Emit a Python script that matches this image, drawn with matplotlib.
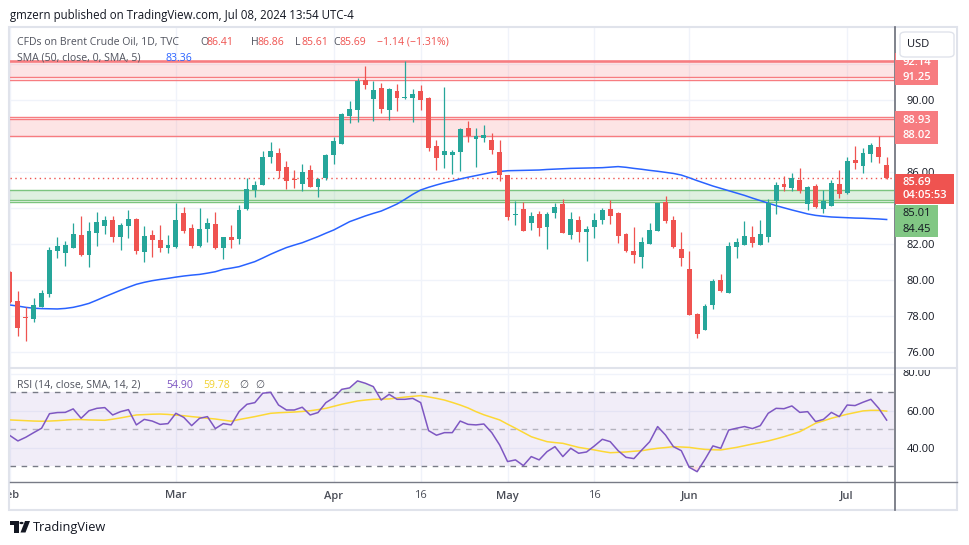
import matplotlib.pyplot as plt
from matplotlib.patches import Rectangle, FancyBboxPatch, Polygon, Circle
from matplotlib.lines import Line2D
from matplotlib.transforms import Bbox, TransformedBbox
import numpy as np
import pandas as pd

plt.rcParams['font.family'] = ['Open Sans', 'DejaVu Sans']

W, H = 970, 545

# daily candles, Brent CFD (TVC), Feb 1 - Jul 8 2024
opens = [80.45, 78.83, 77.95, 77.83, 78.52, 79.22, 81.63, 81.52, 81.80, 82.50,
         81.41, 82.63, 83.02, 83.33, 82.41, 83.02, 83.39, 81.57, 82.50, 82.22,
         81.80, 81.85, 83.72, 82.87, 81.91, 82.85, 83.11, 81.80, 82.39, 82.30,
         83.96, 85.00, 85.30, 86.85, 87.06, 86.28, 85.60, 85.33, 86.11, 85.19,
         85.65, 86.96, 87.57, 89.13, 89.46, 91.09, 90.07, 90.67, 89.46, 90.50,
         90.10, 90.13, 90.50, 90.11, 87.44, 86.96, 86.96, 87.13, 88.44, 87.85,
         87.91, 87.78, 87.11, 85.83, 83.60, 83.94, 83.19, 83.67, 82.96, 83.74,
         84.22, 82.52, 83.33, 82.69, 82.94, 83.35, 83.94, 83.72, 82.56, 81.61,
         81.30, 82.02, 82.74, 84.31, 83.33, 81.72, 80.61, 78.11, 77.24, 78.63,
         79.98, 79.30, 81.85, 81.96, 82.39, 81.96, 82.41, 84.41, 85.33, 85.13,
         85.56, 84.24, 85.22, 83.96, 84.13, 85.33, 84.85, 86.67, 86.35, 87.02,
         87.39, 86.41]
highs = [80.50, 79.39, 78.48, 78.98, 79.44, 81.83, 82.39, 82.17, 83.17, 83.56,
         83.24, 83.76, 83.57, 83.57, 83.15, 83.91, 83.44, 83.00, 82.78, 83.06,
         82.50, 84.30, 84.06, 83.11, 84.00, 83.44, 83.78, 82.40, 83.06, 84.17,
         85.65, 85.50, 87.17, 87.65, 87.33, 86.61, 86.11, 86.44, 86.39, 85.65,
         87.00, 87.96, 89.26, 89.94, 91.24, 91.89, 91.06, 90.94, 90.65, 90.89,
         92.19, 90.61, 90.83, 90.17, 87.78, 90.72, 87.22, 88.46, 88.83, 88.44,
         88.61, 88.15, 87.78, 85.85, 84.41, 84.35, 83.78, 83.85, 83.78, 84.28,
         84.50, 83.78, 83.56, 83.00, 83.72, 84.00, 84.43, 83.75, 82.60, 82.94,
         82.37, 83.17, 84.30, 84.67, 83.56, 82.67, 81.59, 78.19, 78.65, 80.07,
         80.33, 82.11, 82.33, 83.28, 83.00, 83.33, 84.48, 85.44, 85.78, 85.94,
         86.22, 85.22, 85.33, 85.00, 85.56, 86.11, 86.83, 87.44, 87.33, 87.63,
         87.98, 86.86]
lows = [78.70, 76.89, 76.63, 77.69, 78.50, 79.07, 81.20, 80.80, 81.80, 81.35,
        80.74, 81.91, 82.56, 82.09, 81.67, 82.35, 81.44, 81.02, 81.30, 81.57,
        81.52, 81.80, 82.63, 81.76, 81.85, 82.13, 81.72, 81.15, 81.76, 82.02,
        83.90, 84.63, 85.25, 86.52, 85.65, 85.07, 85.13, 84.96, 85.15, 84.63,
        85.56, 86.46, 87.55, 88.74, 88.80, 90.63, 88.85, 89.30, 88.91, 89.41,
        90.07, 88.80, 89.44, 87.17, 86.11, 86.24, 85.87, 86.07, 87.69, 86.30,
        87.69, 87.00, 85.52, 83.33, 83.06, 82.70, 82.80, 82.46, 81.74, 83.46,
        82.60, 82.30, 82.13, 81.07, 82.35, 83.13, 83.13, 82.07, 81.57, 80.96,
        80.69, 82.00, 82.70, 83.19, 81.80, 80.80, 78.05, 76.80, 77.20, 78.41,
        79.31, 79.28, 81.24, 81.94, 81.85, 81.94, 82.13, 83.69, 84.96, 84.96,
        84.85, 83.91, 84.00, 83.74, 84.10, 84.57, 84.80, 86.19, 85.96, 86.57,
        86.52, 85.61]
closes = [78.75, 77.35, 77.90, 78.61, 79.28, 81.67, 81.89, 81.94, 82.56, 81.41,
          82.72, 83.22, 83.33, 82.41, 83.06, 83.39, 81.63, 82.44, 82.24, 81.80,
          81.94, 83.33, 82.74, 81.91, 82.83, 83.17, 81.78, 82.39, 82.24, 83.89,
          85.06, 85.28, 86.83, 87.17, 86.07, 85.52, 85.55, 86.00, 85.19, 85.61,
          86.94, 87.72, 89.22, 89.50, 91.06, 90.85, 90.56, 89.52, 90.61, 90.13,
          90.13, 90.33, 90.00, 87.35, 86.80, 87.17, 87.11, 88.39, 88.00, 87.98,
          88.06, 87.24, 85.85, 83.52, 83.65, 82.74, 83.56, 82.91, 83.67, 84.06,
          82.63, 83.39, 82.69, 82.85, 83.33, 83.89, 83.57, 82.46, 81.63, 81.39,
          82.09, 82.78, 84.28, 83.30, 81.85, 81.24, 78.07, 77.02, 78.56, 79.94,
          79.41, 81.89, 82.11, 82.44, 82.07, 82.56, 84.30, 85.28, 85.19, 85.67,
          84.96, 85.17, 84.06, 84.41, 85.39, 84.80, 86.61, 86.52, 87.06, 87.52,
          86.83, 85.69]

sma50 = [78.61, 78.55, 78.48, 78.43, 78.41, 78.40, 78.39, 78.42, 78.48, 78.58,
         78.70, 78.88, 79.07, 79.25, 79.43, 79.60, 79.76, 79.87, 79.96, 80.03,
         80.09, 80.16, 80.22, 80.27, 80.31, 80.38, 80.46, 80.59, 80.66, 80.74,
         80.88, 81.02, 81.22, 81.43, 81.62, 81.80, 81.94, 82.07, 82.24, 82.41,
         82.60, 82.78, 83.01, 83.24, 83.40, 83.56, 83.70, 83.83, 84.02, 84.22,
         84.48, 84.76, 85.00, 85.15, 85.28, 85.40, 85.50, 85.61, 85.71, 85.80,
         85.89, 85.98, 86.03, 86.07, 86.08, 86.09, 86.10, 86.11, 86.14, 86.16,
         86.18, 86.20, 86.21, 86.22, 86.23, 86.24, 86.27, 86.30, 86.26, 86.20,
         86.15, 86.09, 86.04, 85.98, 85.92, 85.83, 85.68, 85.52, 85.37, 85.22,
         85.09, 84.96, 84.83, 84.70, 84.55, 84.41, 84.27, 84.13, 84.01, 83.89,
         83.78, 83.67, 83.59, 83.54, 83.50, 83.48, 83.46, 83.44, 83.43, 83.41,
         83.39, 83.36]

rsi = [46.5, 43.6, 45.6, 48.1, 50.5, 58.4, 59.0, 59.1, 61.0, 55.9,
       60.0, 61.3, 61.7, 57.7, 59.5, 60.6, 52.3, 55.3, 54.4, 52.6,
       53.0, 58.6, 56.4, 51.9, 55.9, 56.8, 50.3, 53.0, 52.3, 59.5,
       63.5, 64.4, 69.5, 70.0, 63.1, 60.4, 60.4, 61.9, 57.7, 59.0,
       64.4, 67.1, 71.6, 72.4, 76.2, 74.9, 73.1, 65.8, 68.9, 66.2,
       66.2, 66.7, 64.4, 49.2, 46.7, 48.1, 48.1, 54.4, 52.6, 52.3,
       52.8, 48.1, 41.4, 32.4, 33.3, 30.2, 35.1, 33.3, 37.8, 40.5,
       35.1, 39.6, 36.9, 37.6, 40.9, 44.5, 43.2, 38.3, 34.7, 34.0,
       38.7, 43.2, 51.4, 46.8, 40.5, 38.3, 29.3, 26.9, 33.6, 40.9,
       39.6, 49.5, 50.5, 51.4, 50.3, 51.9, 58.6, 61.3, 61.1, 62.6,
       59.1, 59.5, 54.1, 55.3, 59.1, 56.8, 63.1, 62.8, 64.6, 66.2,
       61.3, 54.9]
rsi_sma = [55.0, 54.8, 54.6, 54.4, 54.3, 54.4, 54.6, 54.9, 55.2, 55.2,
           55.0, 54.9, 54.8, 55.4, 56.1, 56.9, 57.7, 57.9, 58.1, 58.2,
           58.0, 57.6, 57.3, 56.8, 56.4, 55.9, 55.5, 54.9, 54.3, 55.2,
           56.0, 56.8, 57.7, 58.6, 58.9, 59.1, 59.3, 59.6, 60.0, 60.6,
           61.3, 62.4, 63.5, 64.4, 65.3, 65.8, 66.2, 66.3, 66.4, 66.9,
           67.4, 67.8, 68.2, 67.5, 66.7, 65.8, 64.5, 63.1, 61.5, 59.5,
           57.8, 56.4, 55.0, 52.7, 50.5, 48.2, 45.9, 44.5, 43.2, 42.7,
           42.3, 41.2, 40.1, 39.4, 38.7, 37.9, 37.2, 37.4, 37.6, 38.0,
           38.3, 39.0, 39.6, 40.0, 40.5, 40.3, 40.1, 39.5, 39.0, 38.8,
           38.7, 39.4, 40.1, 41.0, 41.9, 42.7, 43.6, 44.7, 45.9, 47.2,
           48.6, 50.9, 53.2, 54.5, 55.9, 57.0, 58.1, 59.0, 59.9, 60.2,
           60.2, 59.78]

red_zones = [(91.25, 92.14), (88.02, 88.93)]
green_zones = [(84.45, 85.01)]
red_extra = [91.11, 89.04]
green_extra = [84.31]

# trading days (Good Friday closed)
dates = pd.bdate_range('2024-02-01', '2024-07-08')
dates = dates[dates != pd.Timestamp('2024-03-29')]

tick_days = ['2024-02-01', '2024-03-01', '2024-04-01', '2024-04-16',
             '2024-05-01', '2024-05-16', '2024-06-03', '2024-07-01']
tick_labels = ['Feb', 'Mar', 'Apr', '16', 'May', '16', 'Jun', 'Jul']

UP = '#26a69a'
DOWN = '#ef5350'
TXT = '#131722'
GRAY = '#50535e'

o = np.array(opens); h = np.array(highs); l = np.array(lows); c = np.array(closes)
idx = np.arange(len(c))
lab_pos = [dates.get_loc(pd.Timestamp(d)) for d in tick_days]


def fx(x):
    return x / W


def fy(y):
    return 1 - y / H


fig = plt.figure(figsize=(W / 100, H / 100), dpi=100)
fig.patch.set_facecolor('white')

L, R = 10, 894
ax = fig.add_axes([fx(L), fy(368), fx(R) - fx(L), fy(28) - fy(368)])
rax = fig.add_axes([fx(L), fy(482), fx(R) - fx(L), fy(368) - fy(482)])
dax = fig.add_axes([fx(L), fy(510), fx(R) - fx(L), fy(482) - fy(510)])

xlim = (0.03, 111.93)
for a in (ax, rax, dax):
    a.set_xlim(*xlim)
    for s in a.spines.values():
        s.set_visible(False)
    a.set_axisbelow(True)

# ---- price pane ----
ax.set_ylim(75.11, 94.0)
ax.set_xticks(lab_pos)
yt = np.arange(76, 93, 2)
ax.set_yticks(yt)
# 84, 88 and 92 sit under the zone labels on the scale
ax.set_yticklabels(['' if v in (84, 88, 92) else f'{v:.2f}' for v in yt])
ax.yaxis.tick_right()
ax.tick_params(axis='y', length=0, pad=9, labelsize=8, labelcolor=TXT)
ax.tick_params(axis='x', length=0, labelbottom=False)
ax.grid(True, color='#f0f3fa', lw=1)

ZL = '#f77c80'
for lo, hi in red_zones:
    ax.axhspan(lo, hi, color=ZL, alpha=0.2, lw=0)
    ax.axhline(lo, color=ZL, lw=1)
    ax.axhline(hi, color=ZL, lw=1)
ax.axhline(red_zones[0][1], color=ZL, lw=1.8)
for v in red_extra:
    ax.axhline(v, color=ZL, lw=1)
for lo, hi in green_zones:
    ax.axhspan(lo, hi, color='#81c784', alpha=0.25, lw=0)
    ax.axhline(lo, color='#7cc47f', lw=1)
    ax.axhline(hi, color='#7cc47f', lw=1)
for v in green_extra:
    ax.axhline(v, color='#7cc47f', lw=1)

ax.axhline(c[-1], color=DOWN, lw=1, ls=(0, (1, 2.5)))
ax.plot(idx, sma50, color='#2962ff', lw=1.1)

cols = np.where(c >= o, UP, DOWN)
ax.vlines(idx, l, h, colors=cols, lw=0.9, zorder=3)
body = np.maximum(np.abs(c - o), 0.06)
ax.bar(idx, body, bottom=np.minimum(o, c), width=0.62, color=cols, lw=0, zorder=4)

# ---- RSI pane ----
rax.set_ylim(21.3, 83.2)
rax.set_xticks(lab_pos)
rax.set_yticks([40, 60])
rax.set_yticklabels(['40.00', '60.00'])
rax.yaxis.tick_right()
rax.tick_params(axis='y', length=0, pad=9, labelsize=8, labelcolor=TXT)
rax.tick_params(axis='x', length=0, labelbottom=False)
rax.grid(True, color='#f0f3fa', lw=1)
rax.axhline(80, color='#f0f3fa', lw=1, zorder=0)
rax.axhspan(30, 70, color='#7e57c2', alpha=0.1, lw=0)
rax.axhline(70, color='#787b86', lw=1, ls=(0, (4, 4)))
rax.axhline(30, color='#787b86', lw=1, ls=(0, (4, 4)))
rax.axhline(50, color='#787b86', lw=1, ls=(0, (4, 4)), alpha=0.5)
r = np.array(rsi)
rax.fill_between(idx, r, 70, where=r > 70, interpolate=True, color='#4caf50', alpha=0.15, lw=0)
rax.fill_between(idx, r, 30, where=r < 30, interpolate=True, color='#f23645', alpha=0.15, lw=0)
rax.plot(idx, rsi_sma, color='#fdd835', lw=1.1)
rax.plot(idx, rsi, color='#7e57c2', lw=1.1)

# ---- date strip ----
dax.set_ylim(0, 1)
dax.set_xticks([]); dax.set_yticks([])
for p, t in zip(lab_pos, tick_labels):
    dax.text(p, 0.5, t, ha='center', va='center', fontsize=8, color='#4a4d57',
             fontweight='normal' if t.isdigit() else 'semibold', clip_on=True)

# ---- frame & separators ----
def hline(y, x0, x1, **kw):
    fig.add_artist(Line2D([fx(x0), fx(x1)], [fy(y), fy(y)], **kw))


def vline(x, y0, y1, **kw):
    fig.add_artist(Line2D([fx(x), fx(x)], [fy(y0), fy(y1)], **kw))


fig.add_artist(Rectangle((fx(9.5), fy(510)), fx(957) - fx(9.5), fy(27) - fy(510),
                         fill=False, ec='#e0e3eb', lw=1.5))
hline(368, L, 957, color='#e0e3eb', lw=1.5)
hline(482, L, 957, color='#787b86', lw=1)
vline(R + 0.5, 27, 510, color='#6a6d78', lw=1.2)

# ---- price-scale labels ----
def py(p):
    return H - ax.transData.transform((0, p))[1]


def price_box(y0, y1, x1, color):
    fig.add_artist(Rectangle((fx(R + 1), fy(y1)), fx(x1) - fx(R + 1), fy(y0) - fy(y1),
                             color=color, lw=0, zorder=5))


def label(x, y, s, color, weight='semibold'):
    fig.text(fx(x), fy(y), s, ha='left', va='center', fontsize=8, color=color,
             fontweight=weight, zorder=6)


for lo, hi in red_zones:
    y_hi, y_lo = py(hi), py(lo)
    price_box(y_hi - 8, y_lo + 8, 938, ZL)
    label(903, y_hi + 1, f'{hi:.2f}', 'white')
    label(903, y_lo, f'{lo:.2f}', 'white')

cur_top = py(c[-1]) - 4
price_box(cur_top, cur_top + 30, 954, DOWN)
label(903, cur_top + 8.5, f'{c[-1]:.2f}', 'white')
label(903, cur_top + 22, '04:05:53', 'white')

g_top = cur_top + 31
price_box(g_top, g_top + 32, 938, '#81c784')
label(903, g_top + 9, f'{green_zones[0][1]:.2f}', TXT, 'normal')
label(903, g_top + 25, f'{green_zones[0][0]:.2f}', TXT, 'normal')

# RSI 80 label, clipped at the pane top
t80 = fig.text(fx(903), fy(373), '80.00', ha='left', va='center', fontsize=8, color=TXT)
t80.set_clip_box(TransformedBbox(Bbox.from_extents(fx(R), fy(482), fx(957), fy(369.5)),
                                 fig.transFigure))
t80.set_clip_on(True)

# USD button over the scale top
fig.add_artist(Rectangle((fx(R + 1.5), fy(60)), fx(956) - fx(R + 1.5), fy(28) - fy(60),
                         color='white', lw=0, zorder=7))
fig.add_artist(FancyBboxPatch((fx(900), fy(57)), fx(954) - fx(900), fy(32) - fy(57),
                              boxstyle='round,pad=0,rounding_size=0.006', fc='white',
                              ec='#e0e3eb', lw=1, zorder=8))
fig.text(fx(907), fy(44.5), 'USD', ha='left', va='center', fontsize=8, color=TXT, zorder=9)

# ---- header & legends ----
fig.text(fx(10), fy(15), 'gmzern published on TradingView.com, Jul 08, 2024 13:54 UTC-4',
         ha='left', va='center', fontsize=8.3, color=TXT)

chg = c[-1] - c[-2]
pct = chg / c[-2] * 100
LF = 7.6
pieces = [('CFDs on Brent Crude Oil, 1D, TVC', 17, GRAY),
          ('O', 200.5, GRAY), (f'{o[-1]:.2f}', 207, DOWN),
          ('H', 250.5, GRAY), (f'{h[-1]:.2f}', 257, DOWN),
          ('L', 295.5, GRAY), (f'{l[-1]:.2f}', 301, DOWN),
          ('C', 333, GRAY), (f'{c[-1]:.2f}', 339.5, DOWN),
          (f'\u2212{abs(chg):.2f} (\u2212{abs(pct):.2f}%)', 377, DOWN)]
for s, x, col in pieces:
    fig.text(fx(x), fy(42.5), s, ha='left', va='center', fontsize=LF, color=col, zorder=6)

fig.text(fx(17), fy(58.5), 'SMA (50, close, 0, SMA, 5)', ha='left', va='center',
         fontsize=LF, color=GRAY, zorder=6)
fig.text(fx(165.5), fy(58.5), f'{sma50[-1]:.2f}', ha='left', va='center',
         fontsize=LF, color='#2962ff', zorder=6)

for s, x, col in [('RSI (14, close, SMA, 14, 2)', 17, GRAY),
                  (f'{rsi[-1]:.2f}', 166, '#7e57c2'),
                  (f'{rsi_sma[-1]:.2f}', 203, '#f2d230'),
                  ('\u2205', 239, GRAY), ('\u2205', 255, GRAY)]:
    fig.text(fx(x), fy(385), s, ha='left', va='center', fontsize=LF, color=col, zorder=6)

# ---- TradingView footer ----
fig.add_artist(Polygon([(fx(10), fy(521)), (fx(18.5), fy(521)), (fx(18.5), fy(532.5)),
                        (fx(14.5), fy(532.5)), (fx(14.5), fy(525)), (fx(10), fy(525))],
                       closed=True, color=TXT, lw=0))
fig.add_artist(Circle((fx(21.5), fy(523)), 2.1 / W, color=TXT, lw=0))
fig.add_artist(Polygon([(fx(25), fy(521)), (fx(30), fy(521)), (fx(25.5), fy(532.5)),
                        (fx(20.5), fy(532.5))], closed=True, color=TXT, lw=0))
fig.text(fx(32.5), fy(527), 'TradingView', ha='left', va='center', fontsize=9.2, color=TXT)

fig.savefig('out.png', dpi=100, facecolor='white')
